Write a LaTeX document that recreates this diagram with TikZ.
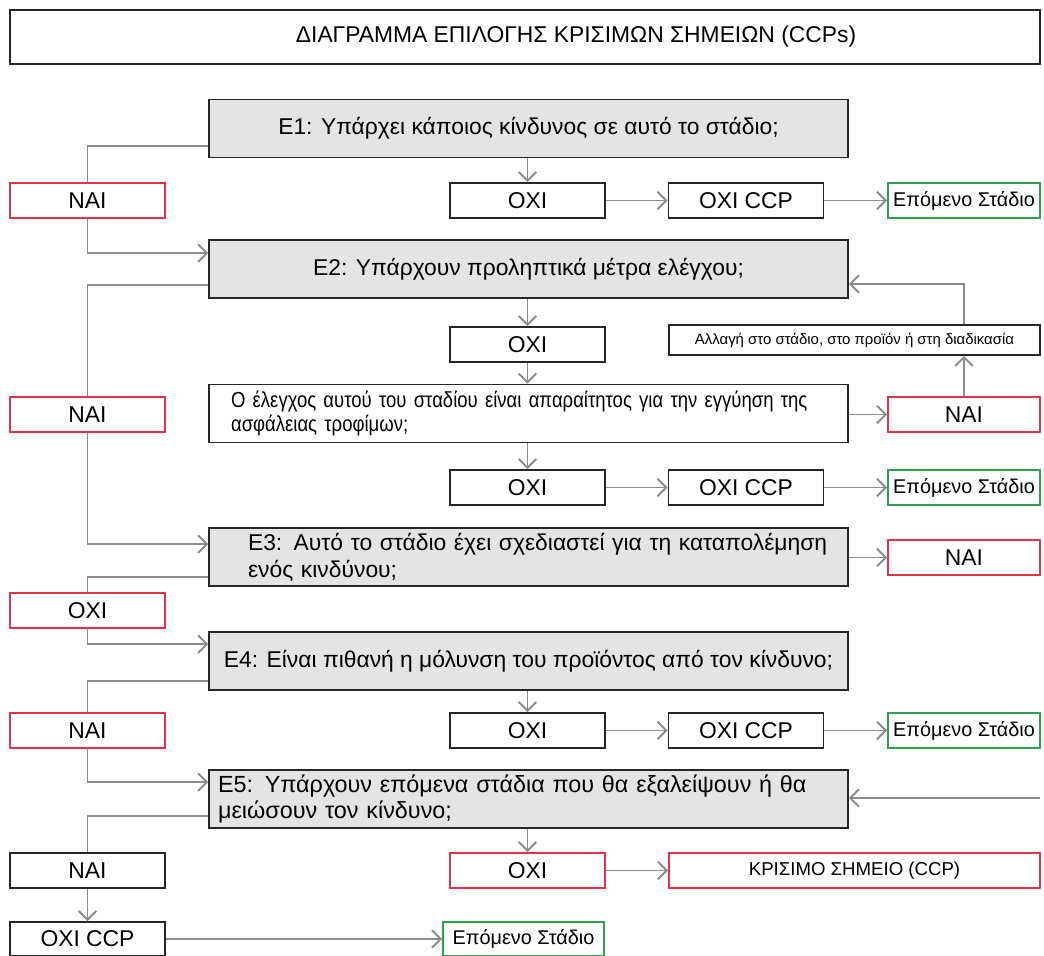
\documentclass[tikz,border=0pt]{standalone}
\usepackage{fontspec}
\setmainfont{Liberation Sans}
\newfontfamily\narrowfont{Liberation Sans}[FakeStretch=0.85,WordSpace=0.85]
\usepackage{tikz}
\usetikzlibrary{arrows.meta,positioning,calc}

\definecolor{boxred}{RGB}{226,52,72}
\definecolor{boxgreen}{RGB}{46,160,76}
\definecolor{qgray}{RGB}{228,228,228}
\definecolor{linegray}{RGB}{140,140,140}

\begin{document}
\begin{tikzpicture}[x=0.02cm,y=-0.02cm,
    box/.style={draw=black!85,line width=1pt,minimum width=3.1cm,minimum height=0.7cm,inner sep=0pt,font=\fontsize{13}{15}\selectfont},
    yesbox/.style={box,draw=boxred,line width=1.1pt},
    nextbox/.style={box,draw=boxgreen,line width=1.1pt,minimum width=3.04cm,font=\fontsize{11.3}{13}\selectfont},
    question/.style={box,fill=qgray,minimum width=12.78cm,minimum height=1.16cm},
    link/.style={draw=linegray,line width=1.1pt},
    conn/.style={link,-{Straight Barb[length=5pt,width=10pt]}}]
        \useasboundingbox (0,0) rectangle (1044,956);

        %%%% Title ======================================
        \node[box,minimum width=20.6cm,minimum height=1.08cm] (title) at (525,37) {};
        \node[font=\fontsize{13}{15}\selectfont] (titletext) at (576,37) {ΔΙΑΓΡΑΜΜΑ ΕΠΙΛΟΓΗΣ ΚΡΙΣΙΜΩΝ ΣΗΜΕΙΩΝ (CCPs)};

        %%%% Question 1 =================================
        \node[question] (e1) at (528.5,128.5) {Ε1: Υπάρχει κάποιος κίνδυνος σε αυτό το στάδιο;};
        \node[yesbox] (nai1) at (87.5,200.5) {ΝΑΙ};
        \node[box] (oxi1) at (527.5,200.5) {ΟΧΙ};
        \node[box] (noccp1) at (746,200.5) {ΟΧΙ CCP};
        \node[nextbox] (next1) at (964,200.5) {Επόμενο Στάδιο};

        %%%% Question 2 =================================
        \node[question] (e2) at (528.5,269) {Ε2: Υπάρχουν προληπτικά μέτρα ελέγχου;};
        \node[yesbox] (nai2) at (87.5,414.5) {ΝΑΙ};
        \node[box] (oxi2) at (527.5,344.5) {ΟΧΙ};
        \node[box,minimum width=7.42cm,minimum height=0.6cm,font=\fontsize{8.5}{10}\selectfont] (change) at (854.5,340) {Αλλαγή στο στάδιο, στο προϊόν ή στη διαδικασία};
        \node[question,fill=white,align=left,text width=11.9cm,font=\narrowfont\fontsize{12.4}{13.5}\selectfont] (ctrl) at (528.5,413.5) {Ο έλεγχος αυτού του σταδίου είναι απαραίτητος για την εγγύηση της\\ασφάλειας τροφίμων;};
        \node[yesbox,minimum width=3.04cm] (nair2) at (964,414.5) {ΝΑΙ};
        \node[box] (oxi3) at (527.5,487.5) {ΟΧΙ};
        \node[box] (noccp2) at (746,487.5) {ΟΧΙ CCP};
        \node[nextbox] (next2) at (964,487.5) {Επόμενο Στάδιο};

        %%%% Question 3 =================================
        \node[question,align=left,text width=12.5cm,font=\fontsize{13}{15.5}\selectfont] (e3) at (528.5,557) {\hspace*{0.64cm}Ε3: Αυτό το στάδιο έχει σχεδιαστεί για τη καταπολέμηση\\\hspace*{0.64cm}ενός κινδύνου;};
        \node[yesbox,minimum width=3.04cm] (nair3) at (964,557.5) {ΝΑΙ};
        \node[yesbox] (oxil) at (87.5,610.5) {ΟΧΙ};

        %%%% Question 4 =================================
        \node[question] (e4) at (528.5,661) {Ε4: Είναι πιθανή η μόλυνση του προϊόντος από τον κίνδυνο;};
        \node[yesbox] (nai4) at (87.5,730.5) {ΝΑΙ};
        \node[box] (oxi4) at (527.5,730.5) {ΟΧΙ};
        \node[box] (noccp3) at (746,730.5) {ΟΧΙ CCP};
        \node[nextbox] (next3) at (964,730.5) {Επόμενο Στάδιο};

        %%%% Question 5 =================================
        \node[question,align=left,text width=12.42cm,font=\fontsize{13.3}{14.5}\selectfont] (e5) at (528.5,799) {Ε5: Υπάρχουν επόμενα στάδια που θα εξαλείψουν ή θα\\μειώσουν τον κίνδυνο;};
        \node[box] (nai5) at (87.5,870.5) {ΝΑΙ};
        \node[yesbox] (oxi5) at (527.5,870.5) {ΟΧΙ};
        \node[yesbox,minimum width=7.42cm,font=\fontsize{10.6}{12}\selectfont] (ccp) at (854.5,870.5) {ΚΡΙΣΙΜΟ ΣΗΜΕΙΟ (CCP)};
        \node[box,minimum height=0.68cm] (noccp4) at (87.5,939) {ΟΧΙ CCP};
        \node[nextbox,minimum width=3.22cm,minimum height=0.68cm] (next4) at (523.5,939) {Επόμενο Στάδιο};
        \coordinate (e5in) at (1040,798);

        %%%% Arcs =======================================
        % E1
        \draw[link] ([yshift=0.24cm]e1.south west) -| (nai1.north);
        \draw[conn] (nai1.south) |- ([yshift=-0.28cm]e2.north west);
        \draw[conn] (e1.south -| oxi1) -- (oxi1);
        \draw[conn] (oxi1) -- (noccp1);
        \draw[conn] (noccp1) -- (next1);

        % E2
        \draw[link] ([yshift=0.28cm]e2.south west) -| (nai2.north);
        \draw[conn] (nai2.south) |- ([yshift=-0.34cm]e3.north west);
        \draw[conn] (e2.south -| oxi2) -- (oxi2);
        \draw[conn] (oxi2) -- (ctrl.north -| oxi2);
        \draw[conn] (ctrl.east |- nair2) -- (nair2);
        \draw[conn] (nair2.north) -- (change.south -| nair2);
        \draw[conn] (change.north -| nair2) |- ([yshift=-0.3cm]e2.east);
        \draw[conn] (ctrl.south -| oxi3) -- (oxi3);
        \draw[conn] (oxi3) -- (noccp2);
        \draw[conn] (noccp2) -- (next2);

        % E3
        \draw[conn] (e3.east |- nair3) -- (nair3);
        \draw[link] ([yshift=0.2cm]e3.south west) -| (oxil.north);
        \draw[conn] (oxil.south) |- ([yshift=-0.26cm]e4.north west);

        % E4
        \draw[link] ([yshift=0.2cm]e4.south west) -| (nai4.north);
        \draw[conn] (nai4.south) |- ([yshift=-0.26cm]e5.north west);
        \draw[conn] (e4.south -| oxi4) -- (oxi4);
        \draw[conn] (oxi4) -- (noccp3);
        \draw[conn] (noccp3) -- (next3);

        % E5
        \draw[conn] (e5in) -- (e5.east |- e5in);
        \draw[link] ([yshift=0.26cm]e5.south west) -| (nai5.north);
        \draw[conn] (nai5) -- (noccp4);
        \draw[conn] (noccp4) -- (next4);
        \draw[conn] (e5.south -| oxi5) -- (oxi5);
        \draw[conn] (oxi5) -- (ccp);
\end{tikzpicture}
\end{document}
